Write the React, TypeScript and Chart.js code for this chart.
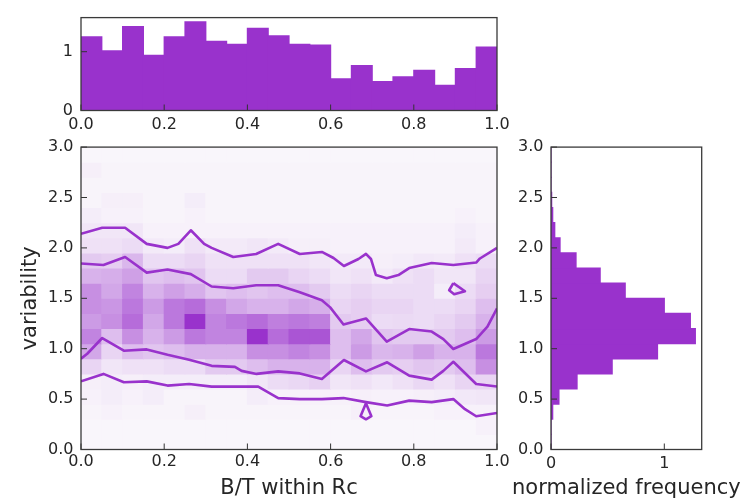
import React, { useEffect, useRef } from "react";
import { Chart, registerables } from "chart.js";

Chart.register(...registerables);

// ---------------- data ----------------
const xTicks = [0, 0.2, 0.4, 0.6, 0.8, 1.0];
const mainYTicks = [0, 0.5, 1.0, 1.5, 2.0, 2.5, 3.0];
const topYTicks = [0, 1];
const rightXTicks = [0, 1];

const xBinWidth = 0.05; // 20 bins over B/T 0..1
const yBinWidth = 0.15; // 20 bins over variability 0..3

// top marginal histogram (normalized frequency per B/T bin)
const topHist = [1.254, 1.016, 1.429, 0.937, 1.254, 1.508, 1.175, 1.127, 1.397, 1.27,
  1.127, 1.111, 0.54, 0.762, 0.492, 0.571, 0.683, 0.429, 0.714, 1.079];

// right marginal histogram (normalized frequency per variability bin, bottom to top)
const rightHist = [0, 0, 0.015, 0.07, 0.23, 0.54, 0.94, 1.274, 1.23, 1.0,
  0.655, 0.434, 0.221, 0.08, 0.033, 0.015, 0.006, 0, 0, 0];

// 2D density (0..100), rows from variability 0 upward, columns B/T 0..1
const densityRows = [
  [1, 1, 1, 1, 1, 1, 1, 1, 1, 1, 1, 1, 1, 1, 1, 1, 1, 1, 1, 1],
  [1, 1, 1, 1, 1, 1, 1, 1, 1, 1, 1, 1, 1, 1, 1, 1, 1, 1, 1, 3],
  [2, 3, 2, 2, 2, 4, 2, 2, 2, 2, 2, 2, 2, 4, 2, 2, 2, 3, 3, 3],
  [3, 5, 3, 5, 2, 2, 2, 2, 5, 3, 3, 3, 3, 4, 3, 3, 4, 5, 7, 8],
  [4, 5, 4, 5, 5, 5, 5, 5, 8, 12, 14, 17, 8, 10, 7, 10, 14, 10, 15, 15],
  [15, 8, 10, 10, 12, 12, 20, 20, 25, 30, 30, 30, 15, 25, 20, 18, 22, 20, 25, 45],
  [35, 15, 25, 22, 25, 30, 30, 30, 45, 45, 50, 45, 25, 40, 28, 30, 38, 30, 30, 55],
  [50, 25, 45, 30, 40, 55, 50, 50, 85, 60, 70, 70, 25, 35, 22, 20, 20, 20, 25, 40],
  [40, 45, 60, 35, 55, 85, 50, 55, 60, 52, 55, 52, 20, 18, 12, 13, 12, 15, 20, 30],
  [45, 42, 55, 40, 55, 60, 45, 35, 30, 30, 35, 32, 15, 18, 15, 15, 12, 12, 15, 25],
  [45, 35, 50, 30, 38, 32, 22, 25, 22, 25, 25, 20, 12, 15, 12, 12, 12, 5, 12, 18],
  [30, 32, 38, 22, 25, 22, 12, 12, 20, 20, 15, 12, 8, 10, 6, 10, 12, 8, 8, 15],
  [20, 18, 28, 12, 12, 15, 10, 10, 10, 10, 10, 8, 6, 6, 4, 5, 7, 6, 10, 12],
  [10, 10, 12, 6, 5, 10, 6, 6, 8, 6, 4, 4, 3, 3, 3, 3, 3, 3, 6, 3],
  [8, 8, 8, 3, 3, 3, 3, 3, 3, 3, 3, 3, 3, 3, 3, 3, 3, 3, 5, 3],
  [5, 3, 3, 2, 2, 3, 2, 2, 2, 2, 2, 2, 2, 2, 2, 2, 2, 2, 3, 2],
  [2, 4, 4, 2, 2, 5, 2, 2, 2, 2, 2, 2, 2, 2, 2, 2, 2, 2, 2, 2],
  [2, 2, 2, 2, 2, 2, 2, 2, 2, 2, 2, 2, 2, 2, 2, 2, 2, 2, 2, 2],
  [4, 2, 2, 2, 2, 2, 2, 2, 2, 2, 2, 2, 2, 2, 2, 2, 2, 2, 2, 2],
  [1, 1, 1, 1, 1, 1, 1, 1, 1, 1, 1, 1, 1, 1, 1, 1, 1, 1, 1, 1],
];

// contour lines [B/T, variability]
const contourOuterTop = [
  [0, 2.14], [0.051, 2.2], [0.106, 2.2], [0.158, 2.04], [0.208, 2.0], [0.234, 2.04],
  [0.264, 2.175], [0.296, 2.04], [0.314, 2.0], [0.366, 1.91], [0.421, 1.94], [0.474, 2.04],
  [0.526, 1.94], [0.579, 1.96], [0.607, 1.9], [0.632, 1.82], [0.667, 1.89], [0.685, 1.94],
  [0.697, 1.89], [0.709, 1.73], [0.735, 1.7], [0.763, 1.73], [0.789, 1.8], [0.843, 1.85],
  [0.895, 1.83], [0.95, 1.855], [0.959, 1.895], [1.0, 2.0],
];
const contourInnerTop = [
  [0, 1.845], [0.054, 1.83], [0.106, 1.91], [0.158, 1.755], [0.208, 1.785], [0.264, 1.74],
  [0.314, 1.617], [0.366, 1.6], [0.421, 1.63], [0.474, 1.63], [0.526, 1.56], [0.579, 1.48],
  [0.599, 1.41], [0.631, 1.24], [0.685, 1.3], [0.735, 1.07], [0.789, 1.195], [0.843, 1.17],
  [0.871, 1.095], [0.895, 0.997], [0.95, 1.096], [0.977, 1.22], [1.0, 1.4],
];
const contourInnerBottom = [
  [0, 0.9], [0.015, 0.95], [0.051, 1.106], [0.103, 0.98], [0.158, 0.993], [0.208, 0.94],
  [0.26, 0.89], [0.314, 0.83], [0.37, 0.82], [0.386, 0.78], [0.422, 0.75], [0.474, 0.775],
  [0.526, 0.755], [0.579, 0.7], [0.632, 0.888], [0.685, 0.775], [0.736, 0.865], [0.789, 0.733],
  [0.843, 0.693], [0.871, 0.78], [0.895, 0.87], [0.95, 0.65], [1.0, 0.625],
];
const contourOuterBottom = [
  [0, 0.676], [0.054, 0.75], [0.103, 0.667], [0.158, 0.676], [0.208, 0.634], [0.26, 0.65],
  [0.314, 0.624], [0.37, 0.624], [0.426, 0.624], [0.474, 0.51], [0.526, 0.5], [0.579, 0.5],
  [0.631, 0.51], [0.685, 0.47], [0.736, 0.436], [0.789, 0.485], [0.843, 0.47], [0.895, 0.5],
  [0.923, 0.4], [0.95, 0.33], [1.0, 0.363],
];
const contourLoopHigh = [
  [0.895, 1.65], [0.923, 1.57], [0.897, 1.54], [0.885, 1.58], [0.895, 1.65],
];
const contourLoopLow = [
  [0.685, 0.46], [0.672, 0.33], [0.685, 0.3], [0.698, 0.33], [0.685, 0.46],
];

// ---------------- styling ----------------
const PURPLE = "#9932CC";
const TEXT = "#262626";
const FONT = "'DejaVu Sans', sans-serif";
const LOW = [249, 246, 251];
const HIGH = [153, 50, 204];
const DENSITY_MIN = 1;
const DENSITY_MAX = 85;

function densityColor(v: number): string {
  const t = Math.max(0, Math.min(1, (v - DENSITY_MIN) / (DENSITY_MAX - DENSITY_MIN)));
  const c = LOW.map((l, i) => Math.round(l + (HIGH[i] - l) * t));
  return `rgb(${c[0]},${c[1]},${c[2]})`;
}

const frameTicks = {
  id: "frameTicks",
  afterDraw(chart: any) {
    const { ctx, chartArea: a, scales } = chart;
    const xs = scales.x;
    const ys = scales.y;
    ctx.save();
    ctx.strokeStyle = "#333333";
    ctx.lineWidth = 1;
    ctx.beginPath();
    xs.ticks.forEach((t: any) => {
      const p = xs.getPixelForValue(t.value);
      ctx.moveTo(p, a.bottom);
      ctx.lineTo(p, a.bottom - 6);
    });
    ys.ticks.forEach((t: any) => {
      const p = ys.getPixelForValue(t.value);
      ctx.moveTo(a.left, p);
      ctx.lineTo(a.left + 6, p);
    });
    ctx.stroke();
    ctx.lineWidth = 1.3;
    ctx.strokeStyle = "#3a3a3a";
    ctx.strokeRect(a.left, a.top, a.right - a.left, a.bottom - a.top);
    // free-width x-axis title (not squeezed to the axis width)
    const title = chart.options.plugins.frameTicks?.xTitle;
    if (title) {
      ctx.fillStyle = TEXT;
      ctx.font = `21px ${FONT}`;
      ctx.textAlign = "center";
      ctx.textBaseline = "middle";
      ctx.fillText(title, (a.left + a.right) / 2, chart.height - 10.5);
    }
    ctx.restore();
  },
};

function setTicks(values: number[]) {
  return (s: any) => {
    s.ticks = values.map((v) => ({ value: v }));
  };
}

function axis(opts: any) {
  const { min, max, ticks, fmt, pad, title, titlePad, fit } = opts;
  return {
    type: "linear",
    min,
    max,
    offset: false,
    afterBuildTicks: setTicks(ticks),
    afterFit: fit,
    grid: { display: false, drawTicks: false, offset: false },
    border: { display: false },
    ticks: {
      callback: fmt,
      padding: pad,
      color: TEXT,
      font: { family: FONT, size: 16 },
      maxRotation: 0,
      autoSkip: false,
    },
    title: title
      ? { display: true, text: title, color: TEXT, font: { family: FONT, size: 21 }, padding: titlePad }
      : { display: false },
  };
}

const fmt1 = (v: any) => Number(v).toFixed(1);
const fmt0 = (v: any) => Number(v).toFixed(0);

function lineDs(points: number[][]) {
  return {
    type: "line",
    data: points.map(([x, y]) => ({ x, y })),
    borderColor: PURPLE,
    borderWidth: 2.6,
    pointRadius: 0,
    fill: false,
    tension: 0,
    borderJoinStyle: "round",
    order: 0,
  };
}

function mainConfig(): any {
  const cells: any[] = [];
  const colors: string[] = [];
  densityRows.forEach((row, k) => {
    row.forEach((v, j) => {
      cells.push({ x: (j + 0.5) * xBinWidth, y: [k * yBinWidth, (k + 1) * yBinWidth] });
      colors.push(densityColor(v));
    });
  });
  return {
    type: "bar",
    data: {
      datasets: [
        lineDs(contourOuterTop),
        lineDs(contourInnerTop),
        lineDs(contourInnerBottom),
        lineDs(contourOuterBottom),
        lineDs(contourLoopHigh),
        lineDs(contourLoopLow),
        {
          type: "bar",
          data: cells,
          backgroundColor: colors,
          borderWidth: 0,
          barPercentage: 1,
          categoryPercentage: 1,
          inflateAmount: 0.5,
          grouped: false,
          order: 1,
        },
      ],
    },
    options: {
      responsive: false,
      animation: false,
      devicePixelRatio: 1,
      layout: { padding: { left: 0, top: 16, right: 43, bottom: 0 } },
      plugins: { legend: { display: false }, tooltip: { enabled: false }, frameTicks: { xTitle: "B/T within Rc" } },
      scales: {
        x: axis({
          min: 0, max: 1, ticks: xTicks, fmt: fmt1, pad: 2.5,
          fit: (s: any) => { s.height = 49.5; },
        }),
        y: axis({
          min: 0, max: 3, ticks: mainYTicks, fmt: fmt1, pad: 7.5,
          title: "variability", titlePad: { top: 18, bottom: 0 },
          fit: (s: any) => { s.width = 81; },
        }),
      },
    },
    plugins: [frameTicks],
  };
}

function topConfig(): any {
  return {
    type: "bar",
    data: {
      datasets: [
        {
          data: topHist.map((v, j) => ({ x: (j + 0.5) * xBinWidth, y: v })),
          backgroundColor: PURPLE,
          borderWidth: 0,
          barPercentage: 1,
          categoryPercentage: 1,
          inflateAmount: 0.6,
        },
      ],
    },
    options: {
      responsive: false,
      animation: false,
      devicePixelRatio: 1,
      layout: { padding: { left: 0, top: 10, right: 43, bottom: 0 } },
      plugins: { legend: { display: false }, tooltip: { enabled: false } },
      scales: {
        x: axis({
          min: 0, max: 1, ticks: xTicks, fmt: fmt1, pad: 4.5,
          fit: (s: any) => { s.height = 29.5; },
        }),
        y: axis({
          min: 0, max: 1.58, ticks: topYTicks, fmt: fmt0, pad: 8,
          fit: (s: any) => { s.width = 81; },
        }),
      },
    },
    plugins: [frameTicks],
  };
}

function rightConfig(): any {
  return {
    type: "bar",
    data: {
      datasets: [
        {
          data: rightHist.map((v, k) => ({ y: (k + 0.5) * yBinWidth, x: v })),
          backgroundColor: PURPLE,
          borderWidth: 0,
          barPercentage: 1,
          categoryPercentage: 1,
          inflateAmount: 0.6,
        },
      ],
    },
    options: {
      indexAxis: "y",
      responsive: false,
      animation: false,
      devicePixelRatio: 1,
      layout: { padding: { left: 0, top: 16, right: 52.3, bottom: 0 } },
      plugins: { legend: { display: false }, tooltip: { enabled: false }, frameTicks: { xTitle: "normalized frequency" } },
      scales: {
        x: axis({
          min: 0, max: 1.33, ticks: rightXTicks, fmt: fmt0, pad: 4.5,
          fit: (s: any) => { s.height = 49.5; },
        }),
        y: axis({
          min: 0, max: 3, ticks: mainYTicks, fmt: fmt1, pad: 7.5,
          fit: (s: any) => { s.width = 41; },
        }),
      },
    },
    plugins: [frameTicks],
  };
}

function ChartCanvas(props: { make: () => any; left: number; top: number; width: number; height: number }) {
  const ref = useRef<HTMLCanvasElement>(null);
  useEffect(() => {
    const chart = new Chart(ref.current as HTMLCanvasElement, props.make());
    return () => chart.destroy();
  }, []);
  const { left, top, width, height } = props;
  return (
    <canvas
      ref={ref}
      width={width}
      height={height}
      style={{ position: "absolute", left, top, width, height }}
    />
  );
}

export default function App() {
  return (
    <div
      style={{
        position: "fixed",
        left: 0,
        top: 0,
        width: 754,
        height: 499,
        overflow: "hidden",
        background: "#ffffff",
      }}
    >
      <ChartCanvas make={topConfig} left={0} top={0} width={540} height={140} />
      <ChartCanvas make={mainConfig} left={0} top={130} width={540} height={369} />
      <ChartCanvas make={rightConfig} left={510} top={130} width={244} height={369} />
    </div>
  );
}
